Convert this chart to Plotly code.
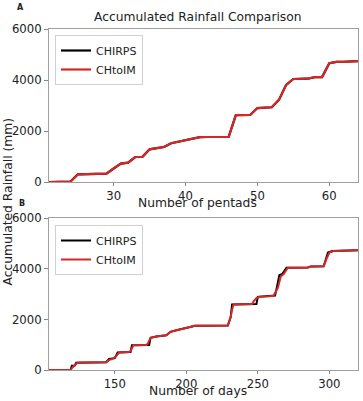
import plotly.graph_objects as go

# ---- Panel A: pentads ----
pentads = list(range(21, 65))
chtoim_pentad = [0, 0, 0, 20, 300, 310, 315, 320, 330, 530, 720, 760, 980, 985,
                 1280, 1330, 1370, 1520, 1580, 1640, 1700, 1760, 1765, 1765, 1765,
                 1770, 2620, 2625, 2630, 2900, 2905, 2930, 3220, 3810, 4040, 4045,
                 4050, 4110, 4115, 4660, 4710, 4715, 4720, 4740]
chirps_pentad = [0, 0, 0, 20, 300, 310, 315, 320, 330, 530, 720, 760, 980, 985,
                 1280, 1330, 1370, 1520, 1580, 1640, 1700, 1760, 1765, 1765, 1765,
                 1770, 2620, 2625, 2630, 2900, 2905, 2930, 3220, 3810, 4040, 4045,
                 4050, 4110, 4115, 4660, 4710, 4715, 4720, 4740]

# ---- Panel B: days (breakpoints) ----
days_chtoim = [104, 118, 119, 121, 122, 124, 125, 144, 146, 149, 151, 153, 160, 161,
               163, 172, 173, 175, 179, 186, 189, 193, 197, 199, 202, 206, 229, 230,
               231, 232, 233, 246, 247, 249, 251, 258, 261, 262, 264, 266, 268, 271,
               285, 287, 296, 298, 300, 303, 320]
vals_chtoim = [0, 0, 20, 150, 200, 300, 310, 320, 400, 470, 560, 700, 720, 760,
               990, 1000, 1050, 1280, 1330, 1380, 1520, 1580, 1620, 1660, 1700, 1760, 1770, 1900,
               2100, 2400, 2600, 2620, 2720, 2850, 2900, 2920, 2940, 3050, 3250, 3700, 3800, 4050,
               4060, 4100, 4110, 4400, 4650, 4710, 4740]
days_chirps = [104, 119, 120, 122, 123, 144, 146, 150, 152, 161, 162, 174, 175, 179,
               186, 189, 193, 197, 199, 202, 206, 229, 231, 232, 248, 249, 250, 261,
               262, 263, 265, 267, 270, 285, 287, 296, 299, 302, 320]
vals_chirps = [0, 0, 180, 190, 300, 320, 450, 480, 700, 720, 990, 1000, 1280, 1330,
               1380, 1520, 1580, 1620, 1660, 1700, 1760, 1770, 2100, 2600, 2600, 2620, 2900, 2920,
               2950, 3200, 3750, 3800, 4050, 4060, 4100, 4110, 4650, 4710, 4740]

y_ticks = [0, 2000, 4000, 6000]
x_ticks_a = [30, 40, 50, 60]
x_ticks_b = [150, 200, 250, 300]

RED = "#d62728"
FONT = "DejaVu Sans"
W, H = 363, 401

fig = go.Figure()
fig.add_trace(go.Scatter(x=pentads, y=chirps_pentad, mode="lines", name="CHIRPS",
                         line=dict(color="black", width=2.2), xaxis="x", yaxis="y", legend="legend"))
fig.add_trace(go.Scatter(x=pentads, y=chtoim_pentad, mode="lines", name="CHtoIM",
                         line=dict(color=RED, width=2.2), xaxis="x", yaxis="y", legend="legend"))
fig.add_trace(go.Scatter(x=days_chirps, y=vals_chirps, mode="lines", name="CHIRPS",
                         line=dict(color="black", width=2), xaxis="x2", yaxis="y2", legend="legend2"))
fig.add_trace(go.Scatter(x=days_chtoim, y=vals_chtoim, mode="lines", name="CHtoIM",
                         line=dict(color=RED, width=2), xaxis="x2", yaxis="y2", legend="legend2"))

xdom = [49 / W, 358 / W]
axis_common = dict(showline=True, mirror=True, linecolor="#a0a0a0", linewidth=1,
                   ticks="outside", tickcolor="#888", tickwidth=1,
                   showgrid=False, zeroline=False, automargin=False,
                   tickfont=dict(family=FONT, size=11.7, color="#222"))

legend_common = dict(xanchor="left", yanchor="top", itemwidth=30,
                     bgcolor="rgba(255,255,255,0.85)", bordercolor="#d0d0d0", borderwidth=1,
                     font=dict(family=FONT, size=11, color="#222"), tracegroupgap=0)

fig.update_layout(
    width=W, height=H,
    margin=dict(l=0, r=0, t=0, b=0, autoexpand=False),
    paper_bgcolor="white", plot_bgcolor="white",
    font=dict(family=FONT, size=12, color="#222"),
    xaxis=dict(domain=xdom, anchor="y", range=[21, 64], tickvals=x_ticks_a,
               ticklen=2.5, **axis_common),
    yaxis=dict(domain=[1 - 182 / H, 1 - 29 / H], anchor="x", range=[0, 6000],
               tickvals=y_ticks, ticklen=4, **axis_common),
    xaxis2=dict(domain=xdom, anchor="y2", range=[104, 320], tickvals=x_ticks_b,
                ticklen=2.5, **axis_common),
    yaxis2=dict(domain=[1 - 370.3 / H, 1 - 218.3 / H], anchor="x2", range=[0, 6000],
                tickvals=y_ticks, ticklen=4, **axis_common),
    legend=dict(x=55 / W, y=1 - 35 / H, **legend_common),
    legend2=dict(x=55 / W, y=1 - 225 / H, **legend_common),
    showlegend=True,
)

annotations = [
    dict(text="Accumulated Rainfall Comparison", x=198 / W, y=1 - 17 / H,
         font=dict(size=12.3)),
    dict(text="Number of pentads", x=198 / W, y=1 - 203 / H, font=dict(size=12.3)),
    dict(text="Number of days", x=198 / W, y=1 - 391 / H, font=dict(size=12.3)),
    dict(text="Accumulated Rainfall (mm)", x=7.5 / W, y=1 - 202 / H, textangle=-90,
         font=dict(size=12.3)),
    dict(text="<b>A</b>", x=20 / W, y=1 - 8 / H, font=dict(size=8)),
    dict(text="<b>B</b>", x=22 / W, y=1 - 203 / H, font=dict(size=8)),
]
for a in annotations:
    fig.add_annotation(xref="paper", yref="paper", showarrow=False,
                       xanchor="center", yanchor="middle", **a)

fig.write_html("out.html", config={"displayModeBar": False},
               post_script="document.body.style.margin='0px';")
